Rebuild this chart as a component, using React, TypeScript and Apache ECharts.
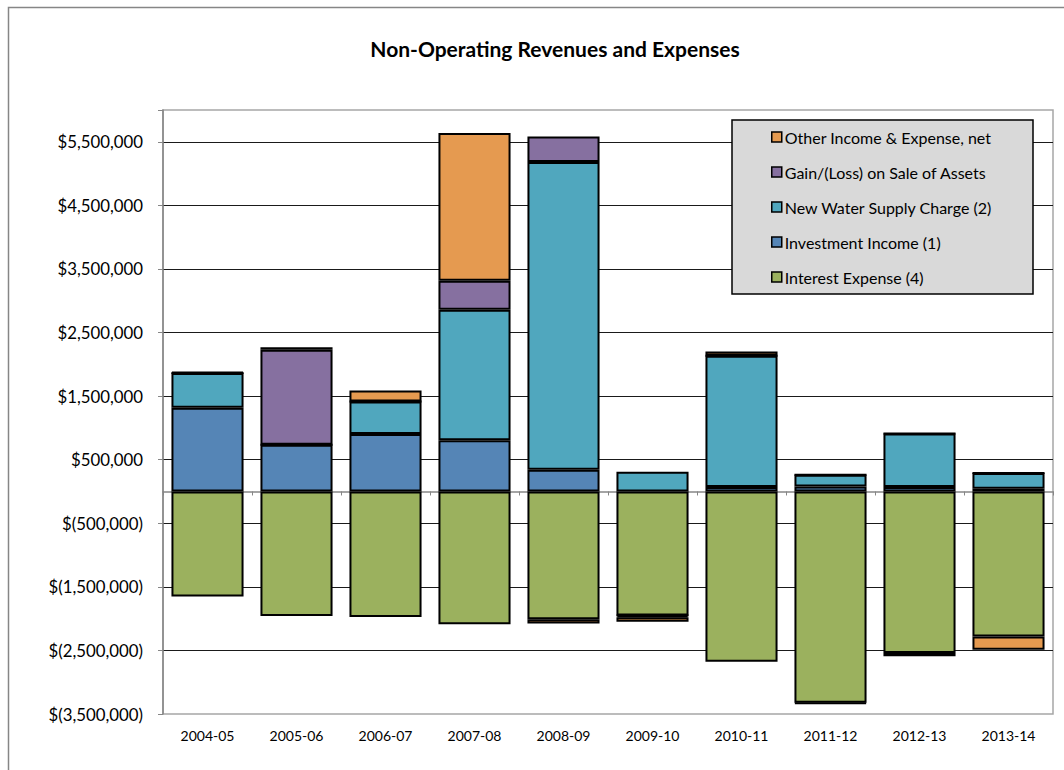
import React, { useEffect, useRef } from "react";
import * as echarts from "echarts";

const categories = ["2004-05", "2005-06", "2006-07", "2007-08", "2008-09", "2009-10", "2010-11", "2011-12", "2012-13", "2013-14"];
const interestExpense = [-1650000, -1960000, -1975000, -2090000, -2010000, -1950000, -2680000, -3325000, -2540000, -2280000];
const investmentIncome = [1318000, 736000, 904000, 804000, 343000, 0, 70000, 80000, 70000, 44000];
const newWaterSupply = [545000, 0, 513000, 2055000, 4838000, 310000, 2064000, 184000, 840000, 247000];
const gainLossAssets = [0, 1494000, 0, 456000, 403000, -30000, 0, 0, 0, 0];
const otherIncome = [15000, 40000, 173000, 2322000, -68000, -70000, 68000, -12000, -50000, -210000];
const yTickMin = -3500000;
const yTickMax = 6000000;
const yTickStep = 1000000;

const FONT = "Lato, 'Open Sans', sans-serif";

const seriesDefs = [
  { name: "Interest Expense (4)", data: interestExpense, color: "#9bb15e" },
  { name: "Investment Income (1)", data: investmentIncome, color: "#5585b6" },
  { name: "New Water Supply Charge (2)", data: newWaterSupply, color: "#50a7be" },
  { name: "Gain/(Loss) on Sale of Assets", data: gainLossAssets, color: "#8670a0" },
  { name: "Other Income & Expense, net", data: otherIncome, color: "#e59a50" },
];

function fmtMoney(v: number): string {
  if (v === yTickMax) return "";
  const s = Math.abs(v).toLocaleString("en-US");
  return v < 0 ? `$(${s})` : `$${s}`;
}

export default function App() {
  const ref = useRef<HTMLDivElement>(null);
  useEffect(() => {
    if (!ref.current) return;
    const chart = echarts.init(ref.current, undefined, { renderer: "svg" });
    chart.setOption({
      animation: false,
      backgroundColor: "#ffffff",
      grid: {
        left: 163,
        right: 11,
        top: 110,
        bottom: 56,
        show: true,
        borderColor: "#a6a6a6",
        borderWidth: 1.5,
        backgroundColor: "transparent",
      },
      legend: {
        orient: "vertical",
        left: 766,
        top: 124,
        padding: 5,
        itemWidth: 10,
        itemHeight: 10,
        itemGap: 19,
        icon: "rect",
        z: 30,
        data: [
          "Other Income & Expense, net",
          "Gain/(Loss) on Sale of Assets",
          "New Water Supply Charge (2)",
          "Investment Income (1)",
          "Interest Expense (4)",
        ],
        textStyle: { fontFamily: FONT, fontSize: 16, color: "#000", padding: [0, 0, 0, -2] },
        itemStyle: { borderColor: "#000", borderWidth: 1.5 },
      },
      xAxis: [
        {
          type: "category",
          data: categories,
          position: "bottom",
          axisLine: { show: false, onZero: false },
          axisTick: { show: false },
          axisLabel: { fontFamily: FONT, fontSize: 14, color: "#000", margin: 14 },
          splitLine: { show: false },
        },
        {
          type: "category",
          data: categories,
          position: "bottom",
          axisLine: { show: true, onZero: true, lineStyle: { color: "#868686", width: 1.5 } },
          axisTick: { show: true, length: 4, lineStyle: { color: "#868686", width: 1 } },
          axisLabel: { show: false },
          splitLine: { show: false },
        },
      ],
      yAxis: {
        type: "value",
        min: yTickMin,
        max: yTickMax,
        interval: yTickStep,
        axisLine: { show: true, lineStyle: { color: "#868686", width: 1.5 } },
        axisTick: { show: true, length: 5, lineStyle: { color: "#868686" } },
        axisLabel: {
          fontFamily: FONT,
          fontSize: 16.8,
          color: "#000",
          margin: 20,
          formatter: (v: number) => fmtMoney(v),
        },
        splitLine: {
          show: true,
          showMinLine: false,
          showMaxLine: false,
          lineStyle: { color: "#1a1a1a", width: 1 },
        },
      },
      series: seriesDefs.map((s) => ({
        type: "bar",
        name: s.name,
        stack: "total",
        data: s.data,
        barWidth: "81%",
        xAxisIndex: 0,
        itemStyle: { color: s.color, borderColor: "#000", borderWidth: 2 },
        emphasis: { disabled: true },
      })),
      graphic: [
        {
          type: "rect",
          z: 0,
          silent: true,
          shape: { x: 8.5, y: 7.5, width: 1200, height: 900 },
          style: { fill: "none", stroke: "#868686", lineWidth: 1.5 },
        },
        {
          type: "text",
          z: 10,
          x: 555,
          y: 48,
          style: {
            text: "Non-Operating Revenues and Expenses",
            fill: "#000",
            fontFamily: FONT,
            fontSize: 21,
            fontWeight: "bold",
            align: "center",
            verticalAlign: "middle",
            textAlign: "center",
            textVerticalAlign: "middle",
          },
        },
        {
          type: "rect",
          z: 20,
          silent: true,
          shape: { x: 732, y: 120, width: 301, height: 174 },
          style: { fill: "#d9d9d9", stroke: "#000", lineWidth: 1.5 },
        },
      ],
    });
    return () => chart.dispose();
  }, []);
  return (
    <div
      ref={ref}
      style={{ position: "fixed", left: 0, top: 0, width: 1064, height: 770 }}
    />
  );
}
